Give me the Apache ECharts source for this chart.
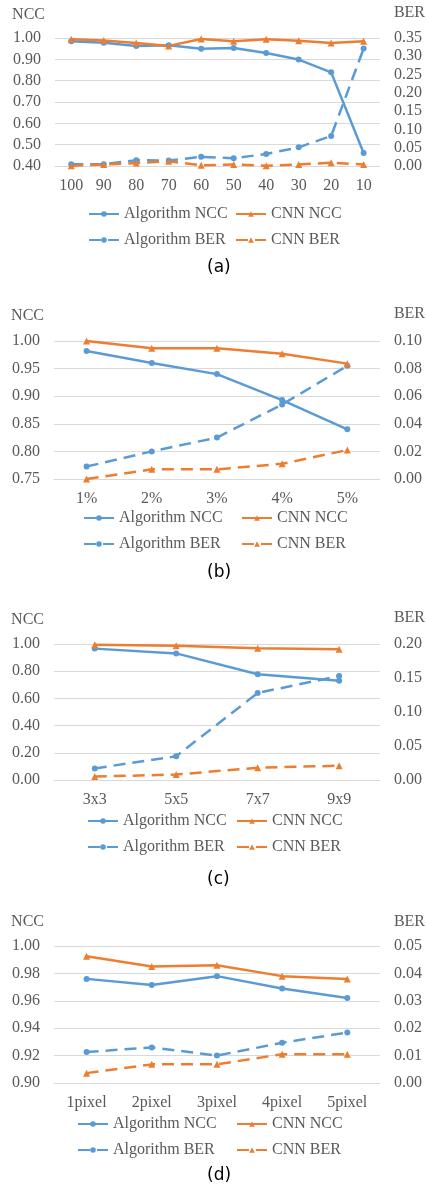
<!DOCTYPE html>
<html>
<head>
<meta charset="utf-8">
<script src="https://cdn.jsdelivr.net/npm/echarts@6/dist/echarts.min.js"></script>
<style>
  html, body { margin: 0; padding: 0; background: #fff; }
  #main { width: 428px; height: 1192px; }
</style>
</head>
<body>
<div id="main"></div>
<script>
// (a) JPEG quality
const categoriesA = ['100', '90', '80', '70', '60', '50', '40', '30', '20', '10']
const algNccA = [0.985, 0.978, 0.963, 0.966, 0.950, 0.953, 0.930, 0.899, 0.839, 0.461]
const cnnNccA = [0.994, 0.988, 0.977, 0.963, 0.995, 0.985, 0.994, 0.987, 0.977, 0.985]
const algBerA = [0.005, 0.005, 0.016, 0.015, 0.025, 0.021, 0.033, 0.051, 0.082, 0.321]
const cnnBerA = [0.001, 0.004, 0.008, 0.013, 0.002, 0.004, 0.001, 0.004, 0.009, 0.004]

// (b) noise
const categoriesB = ['1%', '2%', '3%', '4%', '5%']
const algNccB = [0.982, 0.960, 0.940, 0.893, 0.840]
const cnnNccB = [1.000, 0.987, 0.987, 0.977, 0.959]
const algBerB = [0.009, 0.020, 0.030, 0.054, 0.082]
const cnnBerB = [0.000, 0.007, 0.007, 0.011, 0.021]

// (c) filter size
const categoriesC = ['3x3', '5x5', '7x7', '9x9']
const algNccC = [0.966, 0.931, 0.777, 0.730]
const cnnNccC = [0.995, 0.988, 0.968, 0.961]
const algBerC = [0.017, 0.035, 0.128, 0.153]
const cnnBerC = [0.005, 0.008, 0.018, 0.021]

// (d) shift
const categoriesD = ['1pixel', '2pixel', '3pixel', '4pixel', '5pixel']
const algNccD = [0.976, 0.9715, 0.978, 0.969, 0.962]
const cnnNccD = [0.9925, 0.985, 0.986, 0.978, 0.976]
const algBerD = [0.0113, 0.013, 0.010, 0.0147, 0.0184]
const cnnBerD = [0.0036, 0.0068, 0.0068, 0.0105, 0.0105]

// tick ranges [min, max, interval]
const nccRanges = [[0.4, 1.0, 0.1], [0.75, 1.0, 0.05], [0, 1.0, 0.2], [0.9, 1.0, 0.02]]
const berRanges = [[0, 0.35, 0.05], [0, 0.10, 0.02], [0, 0.20, 0.05], [0, 0.05, 0.01]]
const captions = ['(a)', '(b)', '(c)', '(d)']

const BLUE = '#5B9BD5'
const ORANGE = '#ED7D31'
const TEXT = '#595959'
const SERIF = '"Liberation Serif", "Times New Roman", serif'

// layout of each panel in page pixels
const panels = [
  { cats: categoriesA, data: [algNccA, cnnNccA, algBerA, cnnBerA], grid: { left: 55, top: 38, width: 327, height: 128 }, nameGap: [15, 17], legend: [88, 206], legend2: 235, caption: 259 },
  { cats: categoriesB, data: [algNccB, cnnNccB, algBerB, cnnBerB], grid: { left: 54, top: 341, width: 328, height: 138 }, nameGap: [17, 19], legend: [83, 510], legend2: 241, caption: 564 },
  { cats: categoriesC, data: [algNccC, cnnNccC, algBerC, cnnBerC], grid: { left: 54, top: 644, width: 326, height: 136 }, nameGap: [16, 18], legend: [87, 813], legend2: 236, caption: 871 },
  { cats: categoriesD, data: [algNccD, cnnNccD, algBerD, cnnBerD], grid: { left: 54, top: 946, width: 326, height: 137 }, nameGap: [16, 16], legend: [77, 1116], legend2: 236, caption: 1167 }
]

const names = ['Algorithm NCC', 'CNN NCC', 'Algorithm BER', 'CNN BER']
const grid = []
const xAxis = []
const yAxis = []
const series = []
const legend = []
const title = []

panels.forEach((p, i) => {
  grid.push(p.grid)
  xAxis.push({
    type: 'category',
    gridIndex: i,
    data: p.cats,
    axisLine: { lineStyle: { color: '#D9D9D9' } },
    axisTick: { show: false },
    axisLabel: { color: TEXT, fontFamily: SERIF, fontSize: 16, margin: 12 }
  })
  const nr = nccRanges[i]
  const br = berRanges[i]
  yAxis.push({
    type: 'value',
    gridIndex: i,
    position: 'left',
    min: nr[0],
    max: nr[1],
    interval: nr[2],
    name: 'NCC',
    nameGap: p.nameGap[0],
    nameTextStyle: { color: TEXT, fontFamily: SERIF, fontSize: 16, align: 'right', padding: [0, 10, 0, 0] },
    axisLine: { show: false },
    axisTick: { show: false },
    splitLine: { lineStyle: { color: '#D9D9D9' } },
    axisLabel: { color: TEXT, fontFamily: SERIF, fontSize: 16, margin: 14, formatter: v => v.toFixed(2) }
  })
  yAxis.push({
    type: 'value',
    gridIndex: i,
    position: 'right',
    min: br[0],
    max: br[1],
    interval: br[2],
    name: 'BER',
    nameGap: p.nameGap[1],
    nameTextStyle: { color: TEXT, fontFamily: SERIF, fontSize: 16, align: 'left', padding: [0, 0, 0, 14] },
    axisLine: { show: false },
    axisTick: { show: false },
    splitLine: { show: false },
    axisLabel: { color: TEXT, fontFamily: SERIF, fontSize: 16, margin: 14, formatter: v => v.toFixed(2) }
  })
  names.forEach((n, k) => {
    const isCnn = k % 2 === 1
    const isBer = k >= 2
    series.push({
      name: n,
      type: 'line',
      xAxisIndex: i,
      yAxisIndex: i * 2 + (isBer ? 1 : 0),
      data: p.data[k],
      symbol: isCnn ? 'triangle' : 'circle',
      symbolSize: isCnn ? 7 : 6,
      color: isCnn ? ORANGE : BLUE,
      lineStyle: { width: 2.5, type: isBer ? [12, 7] : 'solid' },
      z: isBer ? 2 : 3
    })
  })
  const legendText = { color: TEXT, fontFamily: SERIF, fontSize: 16 }
  legend.push({
    orient: 'vertical',
    left: p.legend[0],
    top: p.legend[1],
    itemWidth: 30,
    itemHeight: 7,
    itemGap: 10,
    padding: 0,
    textStyle: legendText,
    data: [names[0], names[2]]
  })
  legend.push({
    orient: 'vertical',
    left: p.legend2,
    top: p.legend[1],
    itemWidth: 30,
    itemHeight: 7,
    itemGap: 10,
    padding: 0,
    textStyle: legendText,
    data: [names[1], names[3]]
  })
  title.push({
    text: captions[i],
    left: 207,
    top: p.caption,
    padding: 0,
    textStyle: { color: '#000', fontFamily: '"DejaVu Sans", sans-serif', fontSize: 17, fontWeight: 'normal' }
  })
})

const myChart = echarts.init(document.getElementById('main'))
myChart.setOption({
  animation: false,
  backgroundColor: '#fff',
  title: title,
  legend: legend,
  grid: grid,
  xAxis: xAxis,
  yAxis: yAxis,
  series: series
})
</script>
</body>
</html>
